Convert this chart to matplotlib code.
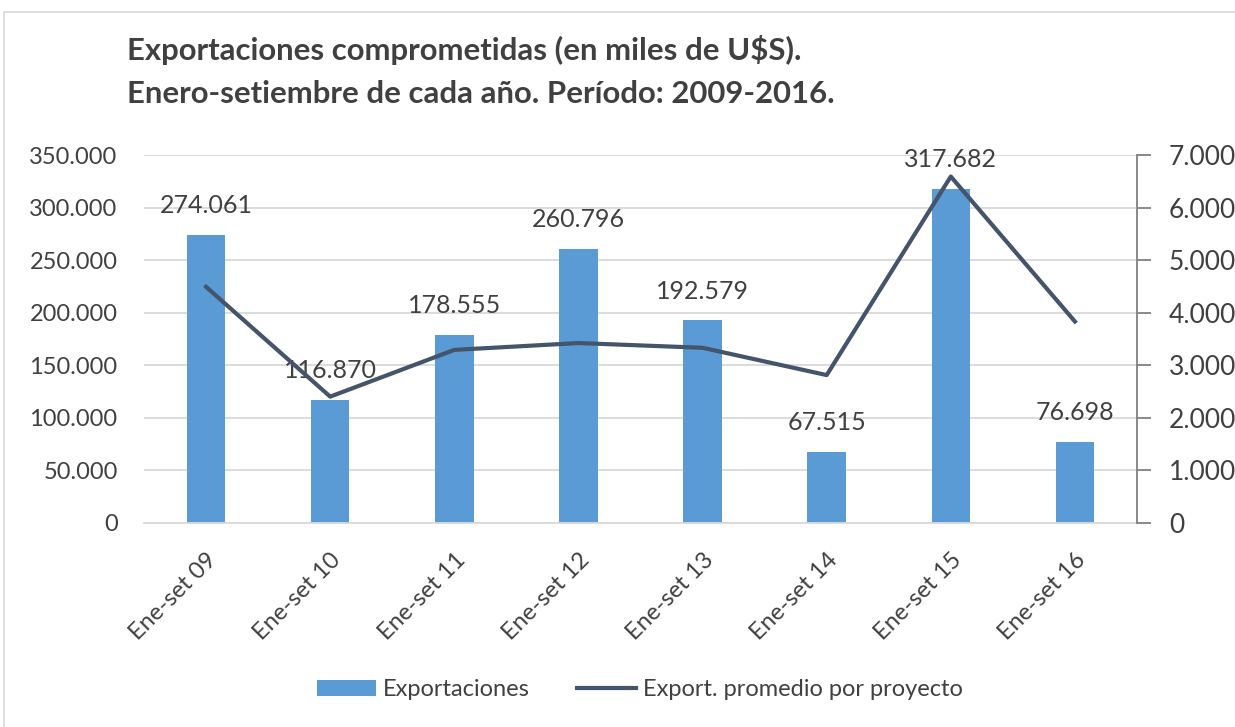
import matplotlib
matplotlib.use("Agg")
from matplotlib import pyplot as plt
from matplotlib.patches import Rectangle
from matplotlib.ticker import FuncFormatter

# Data
categories = ["Ene-set 09", "Ene-set 10", "Ene-set 11", "Ene-set 12",
              "Ene-set 13", "Ene-set 14", "Ene-set 15", "Ene-set 16"]
exportaciones = [274061, 116870, 178555, 260796, 192579, 67515, 317682, 76698]
promedio_proyecto = [4490, 2400, 3290, 3420, 3330, 2810, 6590, 3830]

bar_color = "#5B9BD5"
line_color = "#44546A"
text_color = "#404040"
grid_color = "#D9D9D9"

plt.rcParams['font.family'] = ['Lato', 'DejaVu Sans']


def miles(v, pos):
    return "{:,.0f}".format(v).replace(",", ".")


fig = plt.figure(figsize=(12.35, 7.27), dpi=100)
fig.patches.append(Rectangle((4 / 1235, -0.1), 1.2, 1.1 - 12 / 727, transform=fig.transFigure,
                             fill=False, edgecolor="#D9D9D9", linewidth=1.2))

ax = fig.add_axes([144 / 1235, 1 - 522.7 / 727, (1137 - 144) / 1235, (522.7 - 155) / 727])
x = list(range(len(categories)))

bars = ax.bar(x, exportaciones, width=0.31, color=bar_color, zorder=2, label="Exportaciones")
ax.set_ylim(0, 350000)
ax.set_xlim(-0.5, len(categories) - 0.5)
ax.set_yticks(range(0, 350001, 50000))
ax.yaxis.set_major_formatter(FuncFormatter(miles))
ax.grid(axis="y", color=grid_color, linewidth=1.3, zorder=0)
ax.set_axisbelow(True)
for s in ["top", "left", "right"]:
    ax.spines[s].set_visible(False)
ax.spines["bottom"].set_color(grid_color)
ax.spines["bottom"].set_linewidth(1.3)
ax.tick_params(axis="y", length=0, pad=19, labelsize=17, labelcolor=text_color)
ax.tick_params(axis="x", length=0, pad=19, labelsize=17, labelcolor=text_color)
ax.set_xticks(x)
ax.set_xticklabels(categories, rotation=45, ha="right", rotation_mode="anchor")

for xi, v in zip(x, exportaciones):
    ax.annotate(miles(v, None), (xi, v), xytext=(0, 21), textcoords="offset points",
                ha="center", va="center", fontsize=18, color=text_color, zorder=1)

ax2 = ax.twinx()
ax2.plot(x, promedio_proyecto, color=line_color, linewidth=3, zorder=3,
         label="Export. promedio por proyecto")
ax2.set_ylim(0, 7000)
ax2.set_yticks(range(0, 7001, 1000))
ax2.yaxis.set_major_formatter(FuncFormatter(miles))
for s in ["top", "left", "bottom"]:
    ax2.spines[s].set_visible(False)
ax2.spines["right"].set_color("#808080")
ax2.spines["right"].set_linewidth(1.3)
ax2.tick_params(axis="y", direction="out", length=10, width=1.3, color="#808080",
                pad=13, labelsize=19, labelcolor=text_color)

fig.text(127 / 1235, 1 - 50 / 727, "Exportaciones comprometidas (en miles de U$S).",
         fontsize=22.4, fontweight="bold", color=text_color, va="center")
fig.text(127 / 1235, 1 - 94 / 727, "Enero-setiembre de cada año. Período: 2009-2016.",
         fontsize=22.4, fontweight="bold", color=text_color, va="center")

h1, l1 = ax.get_legend_handles_labels()
h2, l2 = ax2.get_legend_handles_labels()
fig.legend(h1 + h2, l1 + l2, loc="center", bbox_to_anchor=(640 / 1235, 1 - 690 / 727),
           ncol=2, frameon=False, fontsize=17, labelcolor=text_color,
           handlelength=2.5, handleheight=0.65, columnspacing=2.0, handletextpad=0.3)

plt.savefig("out.png", dpi=100)
